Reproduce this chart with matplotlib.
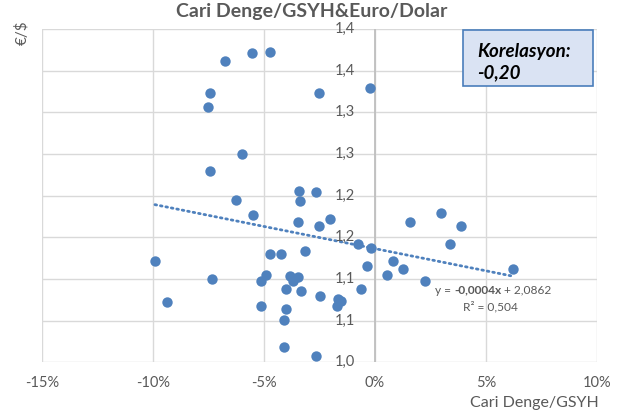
import numpy as np
import matplotlib
matplotlib.use("Agg")
import matplotlib.pyplot as plt
from matplotlib.patches import Rectangle

plt.rcParams['font.family'] = ['Lato', 'DejaVu Sans']

# Current account balance / GDP (%) and EUR/USD rate
cari_denge = [
    -6.74, -5.53, -4.75, -7.42, -7.53, -2.53, -0.24,
    -6.00, -7.42, -6.28, -5.51, -3.42, -3.36, -2.64, -3.45, -2.53, -2.04,
    -9.91, -9.38, -7.32, -4.75, -4.22, -3.14, -0.75, -0.20, -0.38,
    -4.89, -5.14, -3.81, -3.45, -3.67, -4.00, -3.32, -2.49, -1.66, -1.51,
    -1.73, -0.65, -5.14, -4.00, -4.10, -4.10, -2.65,
    1.58, 2.97, 3.88, 3.38, 0.81, 1.27, 0.56, 2.26, 6.23,
]
euro_dolar = [
    1.361, 1.371, 1.372, 1.323, 1.306, 1.323, 1.329,
    1.250, 1.229, 1.195, 1.177, 1.206, 1.193, 1.204, 1.168, 1.163, 1.172,
    1.122, 1.072, 1.100, 1.130, 1.130, 1.134, 1.142, 1.137, 1.115,
    1.105, 1.098, 1.104, 1.102, 1.097, 1.088, 1.086, 1.080, 1.076, 1.074,
    1.067, 1.088, 1.067, 1.064, 1.051, 1.018, 1.007,
    1.168, 1.179, 1.163, 1.142, 1.122, 1.112, 1.105, 1.097, 1.1125,
]

x_ticks = [-15, -10, -5, 0, 5, 10]
x_tick_labels = ['-15%', '-10%', '-5%', '0%', '5%', '10%']
y_ticks = [1.00, 1.05, 1.10, 1.15, 1.20, 1.25, 1.30, 1.35, 1.40]
y_tick_labels = ['1,0', '1,1', '1,1', '1,2', '1,2', '1,3', '1,3', '1,4', '1,4']

title = 'Cari Denge/GSYH&Euro/Dolar'
x_title = 'Cari Denge/GSYH'
y_title = '€/$'
corr_lines = ['Korelasyon:', '-0,20']
eq_parts = ['y = ', '-0,0004x', ' + 2,0862']
r2_text = 'R² = 0,504'

blue = '#4f81bd'
grid_c = '#d9d9d9'
text_c = '#595959'

fig = plt.figure(figsize=(6.34, 4.16), dpi=100)
ax = fig.add_axes([0.0662, 0.1291, 0.8754, 0.8012])
ax.set_xlim(-15, 10)
ax.set_ylim(1.0, 1.4)

for s in ax.spines.values():
    s.set_visible(False)
for xv in x_ticks:
    ax.axvline(xv, color=grid_c, lw=1.0, zorder=0)
for yv in y_ticks:
    ax.axhline(yv, color=grid_c, lw=1.0, zorder=0)
ax.axvline(0, color='#bfbfbf', lw=1.3, zorder=0.5)

ax.tick_params(length=0)
ax.set_xticks(x_ticks)
ax.set_xticklabels(x_tick_labels, color=text_c, fontsize=10.5)
ax.tick_params(axis='x', pad=10)
ax.set_yticks([])
for yv, lab in zip(y_ticks, y_tick_labels):
    ax.annotate(lab, xy=(0, yv), xytext=(-14.5, 0), textcoords='offset points',
                ha='right', va='center', color=text_c, fontsize=10.5,
                annotation_clip=False)

ax.scatter(cari_denge, euro_dolar, s=56, color=blue, zorder=3, linewidths=0)

# Linear trend line across the data range
coef = np.polyfit(cari_denge, euro_dolar, 1)
xs = np.array([min(cari_denge), max(cari_denge)])
ax.plot(xs, np.polyval(coef, xs), color=blue, lw=2, ls=(0, (0.6, 1.4)),
        dash_capstyle='round', zorder=2)

# Trend equation with bold slope
t = ax.text(2.7, 1.0864, eq_parts[0], color=text_c, fontsize=8.6, va='center')
t = ax.annotate(eq_parts[1], xycoords=t, xy=(1, 0), va='bottom',
                color=text_c, fontsize=8.6, fontweight='bold')
ax.annotate(eq_parts[2], xycoords=t, xy=(1, 0), va='bottom',
            color=text_c, fontsize=8.6)
ax.text(5.2, 1.0672, r2_text, color=text_c, fontsize=8.6, va='center', ha='center')

fig.text(0.492, 0.972, title, ha='center', va='center', color=text_c,
         fontsize=14, fontweight='bold')
fig.text(0.0355, 0.922, y_title, ha='center', va='center', rotation=90,
         color=text_c, fontsize=11)
fig.text(0.9448, 0.031, x_title, ha='right', va='center', color=text_c,
         fontsize=11.5)

# Correlation box
fig.patches.append(Rectangle((0.7303, 0.7933), 0.2050, 0.1346,
                             transform=fig.transFigure, fc='#dae3f3',
                             ec='#4a7ebb', lw=1.2, zorder=5))
for yy, line in zip([0.8774, 0.8245], corr_lines):
    fig.text(0.7524, yy, line, ha='left', va='center', color='black',
             fontsize=13.5, fontweight='bold', fontstyle='italic', zorder=6)

fig.savefig('out.png', dpi=100)
